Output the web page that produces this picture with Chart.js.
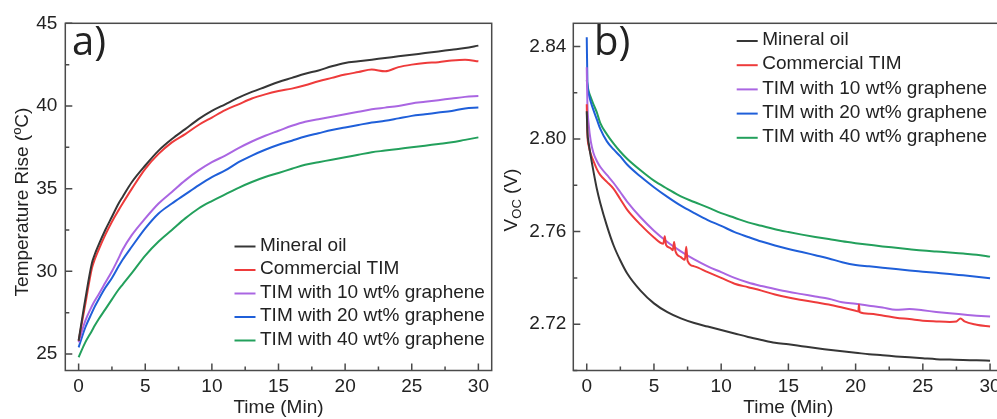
<!DOCTYPE html>
<html>
<head>
<meta charset="utf-8">
<script src="https://cdn.jsdelivr.net/npm/chart.js@4.4.1/dist/chart.umd.min.js"></script>
<style>
  html, body { margin: 0; padding: 0; background: #fff; overflow: hidden; }
  #chartA { position: absolute; left: 0; top: 0; }
  #chartB { position: absolute; left: 500px; top: 0; }
</style>
</head>
<body>
<canvas id="chartA" width="500" height="419"></canvas>
<canvas id="chartB" width="512" height="419"></canvas>
<script>
// Labels
const names = ['Mineral oil', 'Commercial TIM', 'TIM with 10 wt% graphene', 'TIM with 20 wt% graphene', 'TIM with 40 wt% graphene'];
const colors = ['#363636', '#ee3b3b', '#aa66e2', '#1f5fd9', '#23a05c'];

// Ticks
const timeTicks = [0, 5, 10, 15, 20, 25, 30];
const timeMinor = [2.5, 7.5, 12.5, 17.5, 22.5, 27.5];
const tempTicks = [25, 30, 35, 40, 45];
const tempMinor = [27.5, 32.5, 37.5, 42.5];
const voltTicks = [2.72, 2.76, 2.80, 2.84];
const voltMinor = [2.70, 2.74, 2.78, 2.82];

// a) temperature rise (oC) against time (min)
const timeA = [0, 0.5, 1, 1.2, 1.5, 2, 2.5, 3, 3.3, 4, 5, 6, 7, 8, 9, 10, 11, 12, 13, 14, 15, 16, 17, 18, 19, 20, 21, 22, 23, 24, 25, 26, 27, 28, 29, 30];
const mineralA = [25.8, 28.3, 30.5, 31.0, 31.6, 32.5, 33.3, 34.1, 34.5, 35.4, 36.4, 37.3, 38.0, 38.6, 39.2, 39.7, 40.1, 40.5, 40.85, 41.15, 41.45, 41.7, 41.95, 42.15, 42.4, 42.6, 42.7, 42.8, 42.9, 43.0, 43.1, 43.2, 43.3, 43.4, 43.5, 43.65];
const commercialA = [25.8, 28.0, 30.2, 30.7, 31.3, 32.2, 33.0, 33.7, 34.1, 35.0, 36.2, 37.1, 37.8, 38.3, 38.85, 39.3, 39.75, 40.1, 40.45, 40.7, 40.9, 41.05, 41.25, 41.5, 41.7, 41.9, 42.05, 42.2, 42.1, 42.35, 42.5, 42.6, 42.65, 42.75, 42.8, 42.7];
const gr10A = [25.7, 27.0, 27.9, 28.2, 28.6, 29.3, 30.0, 30.8, 31.3, 32.2, 33.2, 34.1, 34.8, 35.5, 36.1, 36.6, 37.0, 37.45, 37.85, 38.2, 38.5, 38.8, 39.05, 39.2, 39.35, 39.5, 39.65, 39.8, 39.9, 40.0, 40.15, 40.25, 40.35, 40.45, 40.55, 40.6];
const gr20A = [25.4, 26.6, 27.5, 27.85, 28.3, 29.0, 29.6, 30.3, 30.7, 31.5, 32.6, 33.5, 34.1, 34.65, 35.2, 35.7, 36.1, 36.6, 37.0, 37.35, 37.65, 37.9, 38.15, 38.35, 38.55, 38.7, 38.85, 39.0, 39.1, 39.25, 39.4, 39.5, 39.6, 39.7, 39.85, 39.9];
const gr40A = [24.8, 25.7, 26.4, 26.7, 27.1, 27.7, 28.3, 28.9, 29.2, 29.9, 30.95, 31.8, 32.5, 33.2, 33.8, 34.25, 34.65, 35.05, 35.4, 35.7, 35.95, 36.2, 36.45, 36.6, 36.75, 36.9, 37.05, 37.2, 37.3, 37.4, 37.5, 37.6, 37.7, 37.8, 37.95, 38.1];

// b) open circuit voltage (V) against time (min)
const timeB = [0, 0.05, 0.15, 0.3, 0.5, 0.75, 1, 1.5, 2, 2.5, 3, 4, 5, 6, 7, 8, 9, 10, 11, 12, 13, 14, 15, 16, 17, 18, 19, 20, 21, 22, 23, 24, 25, 26, 27, 28, 29, 30];
const mineralB = [2.812, 2.803, 2.798, 2.7925, 2.786, 2.7785, 2.7725, 2.7625, 2.754, 2.7475, 2.742, 2.7345, 2.729, 2.7252, 2.7225, 2.7205, 2.719, 2.7175, 2.716, 2.7145, 2.7132, 2.712, 2.7113, 2.7105, 2.7097, 2.709, 2.7083, 2.7077, 2.707, 2.7066, 2.7061, 2.7057, 2.7053, 2.7049, 2.7047, 2.7045, 2.7044, 2.7042];
const gr10B = [2.831, 2.815, 2.806, 2.799, 2.794, 2.7905, 2.788, 2.7845, 2.781, 2.777, 2.773, 2.7662, 2.7604, 2.7555, 2.7515, 2.748, 2.745, 2.7425, 2.740, 2.738, 2.7365, 2.7352, 2.734, 2.733, 2.732, 2.731, 2.7295, 2.7288, 2.728, 2.7272, 2.7262, 2.7266, 2.726, 2.7253, 2.7247, 2.7242, 2.7237, 2.7233];
const gr20B = [2.844, 2.825, 2.8195, 2.816, 2.8125, 2.8085, 2.8045, 2.799, 2.7955, 2.7925, 2.789, 2.7838, 2.7792, 2.775, 2.7712, 2.768, 2.765, 2.7625, 2.7598, 2.7577, 2.7557, 2.754, 2.7525, 2.7512, 2.7498, 2.7484, 2.7468, 2.7456, 2.745, 2.7444, 2.7438, 2.7432, 2.7427, 2.7422, 2.7417, 2.7411, 2.7405, 2.7399];
const gr40B = [2.8255, 2.8235, 2.8205, 2.818, 2.815, 2.8115, 2.807, 2.802, 2.798, 2.7945, 2.7915, 2.7865, 2.782, 2.7785, 2.7752, 2.7728, 2.7705, 2.768, 2.766, 2.764, 2.7625, 2.761, 2.7598, 2.7587, 2.7577, 2.7568, 2.7558, 2.755, 2.7543, 2.7536, 2.753, 2.7524, 2.7518, 2.7514, 2.751, 2.7505, 2.75, 2.7492];
// commercial TIM has its own sampling because of the short spikes
const timeRedB = [0, 0.05, 0.15, 0.3, 0.5, 0.75, 1, 1.5, 2, 2.5, 3, 4, 5, 5.7, 5.8, 5.9, 6.2, 6.4, 6.5, 6.6, 7, 7.3, 7.4, 7.5, 8, 9, 10, 11, 12, 13, 14, 15, 16, 17, 18, 19, 20, 20.2, 20.25, 20.3, 21, 22, 23, 24, 25, 26, 27, 27.5, 27.8, 28.1, 29, 30];
const commercialB = [2.815, 2.802, 2.797, 2.7935, 2.7905, 2.787, 2.7845, 2.7815, 2.7785, 2.774, 2.7695, 2.763, 2.7575, 2.7548, 2.758, 2.7542, 2.753, 2.752, 2.7555, 2.7515, 2.749, 2.7478, 2.7535, 2.7474, 2.745, 2.7425, 2.740, 2.7375, 2.736, 2.7345, 2.7328, 2.7315, 2.7305, 2.7295, 2.7285, 2.7272, 2.7258, 2.7255, 2.7285, 2.7252, 2.7245, 2.7238, 2.7228, 2.7222, 2.7215, 2.7212, 2.721, 2.7212, 2.7225, 2.7212, 2.7198, 2.719];

const fontFamily = '"Liberation Sans", Arial, sans-serif';
const textColor = '#222';

function series(times, values) {
    return times.map((t, i) => ({ x: t, y: values[i] }));
}

function makeSets(list) {
    return list.map((d, i) => ({
        label: names[i],
        data: d,
        borderColor: colors[i],
        backgroundColor: colors[i],
        borderWidth: 2,
        pointRadius: 0,
        cubicInterpolationMode: 'monotone'
    }));
}

function setTicks(major, minor) {
    return (scale) => {
        scale.ticks = major.concat(minor).sort((p, q) => p - q).map((v) => ({ value: v }));
    };
}

// Frame box with inward major and minor ticks
const frameTicks = {
    id: 'frameTicks',
    afterDatasetsDraw(chart) {
        const { ctx, chartArea: a, scales } = chart;
        ctx.save();
        ctx.strokeStyle = '#4a4a4a';
        ctx.lineWidth = 1.5;
        ctx.strokeRect(a.left, a.top, a.right - a.left, a.bottom - a.top);
        ctx.beginPath();
        scales.x.ticks.forEach((t) => {
            const px = scales.x.getPixelForValue(t.value);
            const len = t.label !== '' ? 7 : 4;
            ctx.moveTo(px, a.bottom);
            ctx.lineTo(px, a.bottom - len);
        });
        scales.y.ticks.forEach((t) => {
            const py = scales.y.getPixelForValue(t.value);
            const len = t.label !== '' ? 7 : 4;
            ctx.moveTo(a.left, py);
            ctx.lineTo(a.left + len, py);
        });
        ctx.stroke();
        ctx.restore();
    }
};

// Legend inside the plot, short line + name
const boxLegend = {
    id: 'boxLegend',
    afterDraw(chart, args, opts) {
        const ctx = chart.ctx;
        ctx.save();
        ctx.font = '19px ' + fontFamily;
        ctx.textBaseline = 'middle';
        ctx.fillStyle = textColor;
        chart.data.datasets.forEach((ds, i) => {
            const y = opts.y + i * opts.gap;
            ctx.strokeStyle = ds.borderColor;
            ctx.lineWidth = 2;
            ctx.beginPath();
            ctx.moveTo(opts.x, y + 1);
            ctx.lineTo(opts.x + 21, y + 1);
            ctx.stroke();
            ctx.fillText(ds.label, opts.x + 25.5, y);
        });
        ctx.restore();
    }
};

// Rotated y title with super/subscript parts, and the panel letter
const panelText = {
    id: 'panelText',
    afterDraw(chart, args, opts) {
        const ctx = chart.ctx;
        ctx.save();
        ctx.fillStyle = textColor;
        ctx.font = '40px "Open Sans", "DejaVu Sans", sans-serif';
        ctx.textBaseline = 'alphabetic';
        ctx.fillText(opts.letter, opts.letterX, opts.letterY);

        const parts = opts.title;
        let total = 0;
        parts.forEach((p) => {
            ctx.font = p.size + 'px ' + fontFamily;
            p.w = ctx.measureText(p.text).width;
            total += p.w;
        });
        ctx.translate(opts.titleX, opts.titleY);
        ctx.rotate(-Math.PI / 2);
        ctx.textBaseline = 'middle';
        let x = -total / 2;
        parts.forEach((p) => {
            ctx.font = p.size + 'px ' + fontFamily;
            ctx.fillText(p.text, x, p.shift);
            x += p.w;
        });
        ctx.restore();
    }
};

function makeChart(canvas, datasets, cfg) {
    return new Chart(canvas, {
        type: 'line',
        data: { datasets: datasets },
        options: {
            responsive: false,
            animation: false,
            layout: { padding: { left: 0, right: cfg.padRight, top: 23.3, bottom: 0 } },
            scales: {
                x: {
                    type: 'linear',
                    min: -1,
                    max: 31,
                    afterBuildTicks: setTicks(timeTicks, timeMinor),
                    afterFit: (scale) => { scale.height = 48.5; },
                    grid: { display: false, drawTicks: false },
                    border: { display: false },
                    ticks: {
                        autoSkip: false,
                        maxRotation: 0,
                        padding: 5,
                        color: textColor,
                        font: { family: fontFamily, size: 19 },
                        callback: (v) => (timeTicks.includes(v) ? String(v) : '')
                    },
                    title: {
                        display: true,
                        text: 'Time (Min)',
                        color: textColor,
                        padding: { top: 0, bottom: 0 },
                        font: { family: fontFamily, size: 19 }
                    }
                },
                y: {
                    min: cfg.yMin,
                    max: cfg.yMax,
                    afterBuildTicks: setTicks(cfg.yTicks, cfg.yMinor),
                    afterFit: (scale) => { scale.width = cfg.yWidth; },
                    grid: { display: false, drawTicks: false },
                    border: { display: false },
                    ticks: {
                        autoSkip: false,
                        padding: cfg.yPad,
                        color: textColor,
                        font: { family: fontFamily, size: 19 },
                        callback: cfg.yLabel
                    }
                }
            },
            plugins: {
                legend: { display: false },
                tooltip: { enabled: false },
                boxLegend: cfg.legend,
                panelText: cfg.text
            }
        },
        plugins: [frameTicks, boxLegend, panelText]
    });
}

makeChart(document.getElementById('chartA'), makeSets([
    series(timeA, mineralA),
    series(timeA, commercialA),
    series(timeA, gr10A),
    series(timeA, gr20A),
    series(timeA, gr40A)
]), {
    padRight: 8.3,
    yMin: 24,
    yMax: 45,
    yTicks: tempTicks,
    yMinor: tempMinor,
    yWidth: 65.3,
    yPad: 8,
    yLabel: (v) => (tempTicks.includes(v) ? String(v) : ''),
    legend: { x: 234.5, y: 245.5, gap: 23.5 },
    text: {
        letter: 'a)', letterX: 72, letterY: 55,
        titleX: 23, titleY: 202,
        title: [
            { text: 'Temperature Rise (', size: 19, shift: 0 },
            { text: 'o', size: 13, shift: -6 },
            { text: 'C)', size: 19, shift: 0 }
        ]
    }
});

makeChart(document.getElementById('chartB'), makeSets([
    series(timeB, mineralB),
    series(timeRedB, commercialB),
    series(timeB, gr10B),
    series(timeB, gr20B),
    series(timeB, gr40B)
]), {
    padRight: 8.5,
    yMin: 2.70,
    yMax: 2.85,
    yTicks: voltTicks,
    yMinor: voltMinor,
    yWidth: 73.3,
    yPad: 7,
    yLabel: (v) => (voltTicks.includes(v) ? v.toFixed(2) : ''),
    legend: { x: 236.7, y: 40, gap: 24.2 },
    text: {
        letter: 'b)', letterX: 94, letterY: 55,
        titleX: 12, titleY: 200,
        title: [
            { text: 'V', size: 19, shift: 0 },
            { text: 'OC', size: 13, shift: 5 },
            { text: ' (V)', size: 19, shift: 0 }
        ]
    }
});
</script>
</body>
</html>
